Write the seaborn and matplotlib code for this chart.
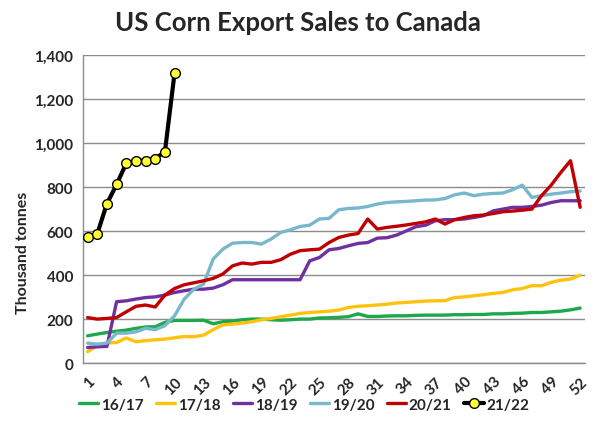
import numpy as np
import pandas as pd
import matplotlib
matplotlib.use("Agg")
import matplotlib.pyplot as plt
from matplotlib.ticker import FuncFormatter, MultipleLocator
import seaborn as sns

# --- Data --- #
weeks = list(range(1, 53))

s1617 = [124, 132, 139, 145, 150, 158, 164, 165, 185, 194, 194, 194, 195, 179, 188, 191,
         197, 200, 200, 197, 195, 197, 200, 200, 205, 206, 208, 211, 224, 212, 212, 214,
         215, 215, 217, 218, 218, 218, 220, 220, 221, 221, 224, 224, 226, 227, 230, 230,
         233, 236, 242, 250]
s1718 = [52, 79, 91, 94, 114, 97, 102, 106, 109, 115, 121, 120, 127, 152, 174, 177,
         182, 188, 197, 203, 211, 218, 226, 230, 233, 236, 241, 253, 258, 261, 264, 268,
         273, 276, 279, 282, 283, 284, 298, 301, 306, 311, 317, 321, 333, 339, 352, 352,
         367, 377, 382, 400]
s1819 = [71, 74, 76, 279, 283, 291, 298, 301, 309, 321, 329, 336, 336, 341, 356, 379,
         379, 379, 379, 379, 379, 379, 379, 465, 480, 515, 521, 533, 544, 548, 568, 570,
         582, 601, 620, 627, 647, 652, 652, 655, 662, 670, 692, 700, 708, 708, 712, 718,
         730, 738, 738, 738]
s1920 = [91, 86, 91, 136, 136, 142, 158, 152, 170, 215, 291, 336, 359, 473, 518, 545,
         548, 548, 541, 564, 594, 606, 621, 627, 655, 658, 697, 703, 705, 712, 723, 730,
         733, 735, 738, 741, 742, 748, 765, 773, 761, 768, 771, 773, 788, 809, 753, 761,
         768, 773, 779, 782]
s2021 = [207, 200, 203, 207, 233, 258, 264, 255, 309, 339, 356, 365, 374, 385, 405, 442,
         455, 450, 458, 458, 470, 495, 511, 515, 518, 548, 571, 582, 589, 655, 609, 617,
         622, 628, 635, 642, 655, 632, 652, 662, 670, 673, 680, 688, 691, 695, 700, 761,
         809, 867, 920, 708]
s2122 = [572, 588, 725, 812, 908, 920, 920, 930, 960, 1318]

series = {
    "16/17": s1617,
    "17/18": s1718,
    "18/19": s1819,
    "19/20": s1920,
    "20/21": s2021,
}
colors = {
    "16/17": "#1DA84A",
    "17/18": "#FFC20E",
    "18/19": "#7030A0",
    "19/20": "#79B7CD",
    "20/21": "#C00000",
}

# --- Plot --- #
sns.set_style("white")
plt.rcParams["font.family"] = ["Lato", "DejaVu Sans"]
plt.rcParams["font.weight"] = "bold"

fig = plt.figure(figsize=(6, 4.35), dpi=100)
ax = fig.add_axes([0.138, 0.163, 0.837, 0.708])

for name, vals in series.items():
    sns.lineplot(x=weeks, y=vals, ax=ax, color=colors[name], linewidth=2.4,
                 label=name, zorder=3)

sns.lineplot(x=weeks[:len(s2122)], y=s2122, ax=ax, color="black", linewidth=3,
             marker="o", markersize=7, markerfacecolor="#FFFF33",
             markeredgecolor="black", markeredgewidth=1.0, label="21/22", zorder=4)

ax.set_xlim(0.5, 52.5)
ax.set_ylim(0, 1400)
ax.yaxis.set_major_locator(MultipleLocator(200))
ax.yaxis.set_major_formatter(FuncFormatter(lambda v, p: f"{int(v):,}"))
ax.set_xticks(weeks[::3])
ax.set_xticks(np.arange(0.5, 53, 1), minor=True)
ax.set_xticklabels([str(w) for w in weeks[::3]], rotation=45, ha="right",
                   rotation_mode="anchor")

ax.grid(axis="y", color="#8C8C8C", linewidth=1.0)
ax.grid(axis="x", visible=False)
ax.set_axisbelow(True)

for side in ["top", "right"]:
    ax.spines[side].set_visible(False)
for side in ["left", "bottom"]:
    ax.spines[side].set_color("#8C8C8C")
    ax.spines[side].set_linewidth(1.0)

ax.tick_params(axis="y", which="major", length=4, color="#8C8C8C", labelsize=11, pad=3)
ax.tick_params(axis="x", which="major", length=0, labelsize=11, pad=8)
ax.tick_params(axis="x", which="minor", length=4, color="#8C8C8C", direction="out")

ax.set_ylabel("Thousand tonnes", fontsize=11.5, fontweight="bold", labelpad=6)
ax.yaxis.set_label_coords(-0.105, 0.36)
ax.set_xlabel("")

fig.text(0.497, 0.948, "US Corn Export Sales to Canada", ha="center", va="center",
         fontsize=18.5, fontweight="bold")

ax.legend(loc="center", bbox_to_anchor=(0.44, -0.135), ncol=6, frameon=False,
          handlelength=1.3, handletextpad=0.15, columnspacing=0.8,
          prop={"weight": "bold", "size": 11})

fig.savefig("out.png", dpi=100)
